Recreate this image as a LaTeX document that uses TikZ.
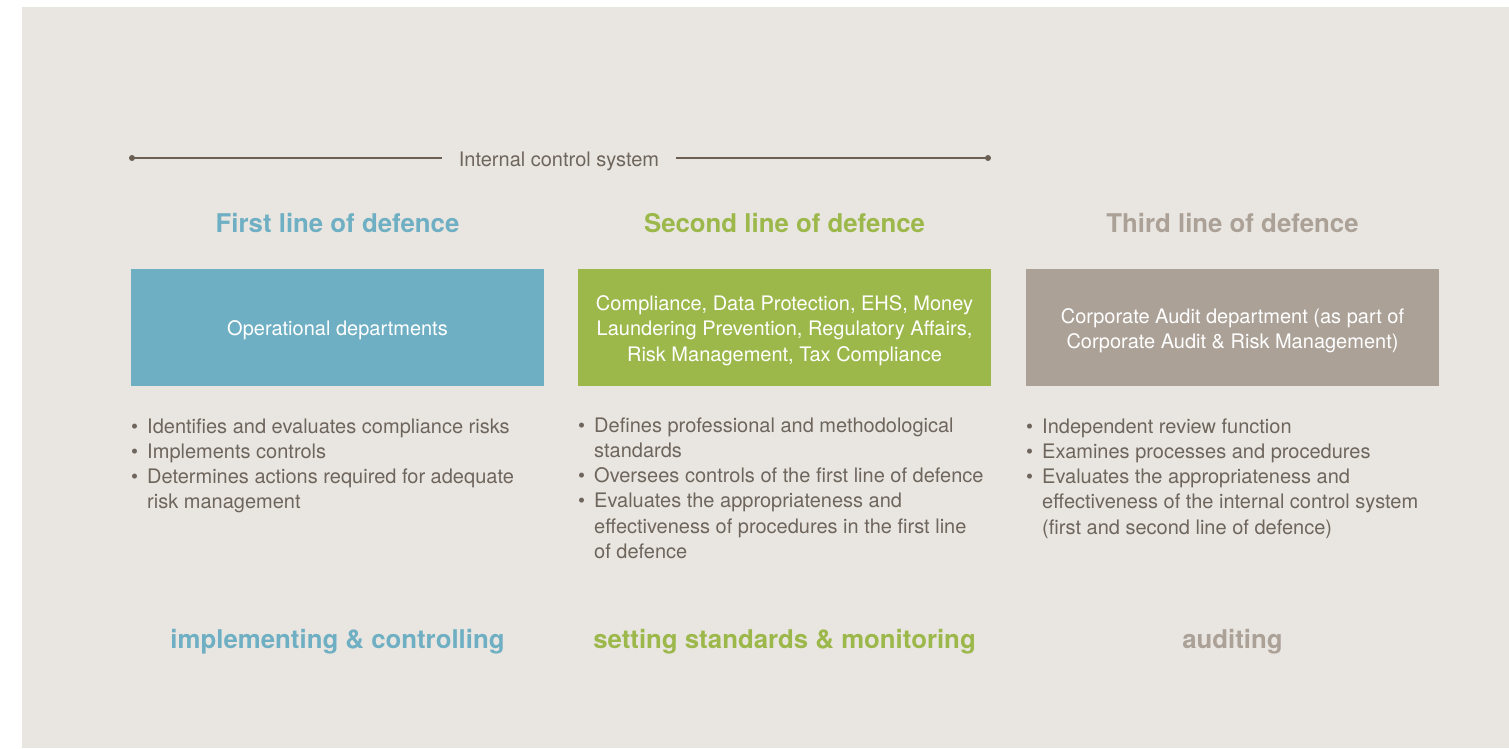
\documentclass[tikz,border=0pt]{standalone}
\usepackage{fontspec}
\setmainfont{TeX Gyre Heros}
\definecolor{panel}{RGB}{233,230,225}
\definecolor{firstc}{RGB}{111,175,195}
\definecolor{secondc}{RGB}{156,184,74}
\definecolor{thirdc}{RGB}{171,161,151}
\definecolor{bodyc}{RGB}{110,101,93}
\definecolor{rulec}{RGB}{107,95,83}
% one bullet item; \newline breaks keep the hanging indent
\newcommand{\bulletitem}[1]{{\hangindent=16pt\hangafter=1\noindent\makebox[16pt][l]{\textbullet}#1\par}}
% centred unit text, set a little below the optical middle of its box
\newcommand{\unittext}[1]{\raisebox{-3pt}[\height][\depth]{\parbox{400pt}{\centering\fontsize{20}{25.5}\selectfont #1}}}
\begin{document}
\begin{tikzpicture}[x=1pt,y=-1pt,
  heading/.style={anchor=base,inner sep=0pt,font=\fontsize{25.8}{30}\selectfont\bfseries},
  unitbox/.style={draw=none,minimum width=413pt,minimum height=117pt,inner sep=0pt,text=white},
  duties/.style={anchor=base west,inner sep=0pt,text=bodyc},
  rulelabel/.style={anchor=base,inner xsep=17pt,inner ysep=0pt,text=bodyc,font=\fontsize{20}{24}\selectfont},
  enddot/.style={fill=rulec,circle,inner sep=0pt,minimum size=6pt}]
  \useasboundingbox (0,0) rectangle (1509,748);
  \fill[panel] (22,7) rectangle (1509,748);

  % internal control system bracket
  \node[enddot] (L) at (132,158) {};
  \node[enddot] (R) at (988,158) {};
  \node[rulelabel] (ics) at (559,166) {Internal control system};
  \draw[rulec,line width=1.2pt] (L.center) -- (L -| ics.west);
  \draw[rulec,line width=1.2pt] (ics.east |- R) -- (R.center);

  % headings
  \node[heading,text=firstc]  (h1) at (337.5,232) {First line of defence};
  \node[heading,text=secondc] (h2) at (784.5,232) {Second line of defence};
  \node[heading,text=thirdc]  (h3) at (1232.5,232) {Third line of defence};

  % responsible units
  \node[unitbox,fill=firstc]  (b1) at (337.5,327.5) {\unittext{Operational departments}};
  \node[unitbox,fill=secondc] (b2) at (784.5,327.5) {\unittext{Compliance, Data Protection, EHS, Money\\Laundering Prevention, Regulatory Affairs,\\Risk Management, Tax Compliance}};
  \node[unitbox,fill=thirdc]  (b3) at (1232.5,327.5) {\unittext{Corporate Audit department (as part of\\Corporate Audit \& Risk Management)}};

  % duties
  \node[duties] (d1) at (131,433) {\parbox[t]{420pt}{\fontsize{20}{25.3}\selectfont\raggedright
    \bulletitem{Identifies and evaluates compliance risks}
    \bulletitem{Implements controls}
    \bulletitem{Determines actions required for adequate\newline risk management}}};
  \node[duties] (d2) at (578,432) {\parbox[t]{420pt}{\fontsize{20}{25.3}\selectfont\raggedright
    \bulletitem{Defines professional and methodological\newline standards}
    \bulletitem{Oversees controls of the first line of defence}
    \bulletitem{Evaluates the appropriateness and\newline effectiveness of procedures in the first line\newline of defence}}};
  \node[duties] (d3) at (1026,433) {\parbox[t]{420pt}{\fontsize{20}{25.3}\selectfont\raggedright
    \bulletitem{Independent review function}
    \bulletitem{Examines processes and procedures}
    \bulletitem{Evaluates the appropriateness and\newline effectiveness of the internal control system\newline (first and second line of defence)}}};

  % roles
  \node[heading,text=firstc]  (r1) at (337.5,648) {implementing \& controlling};
  \node[heading,text=secondc] (r2) at (784.5,648) {setting standards \& monitoring};
  \node[heading,text=thirdc]  (r3) at (1232.5,648) {auditing};
\end{tikzpicture}
\end{document}
